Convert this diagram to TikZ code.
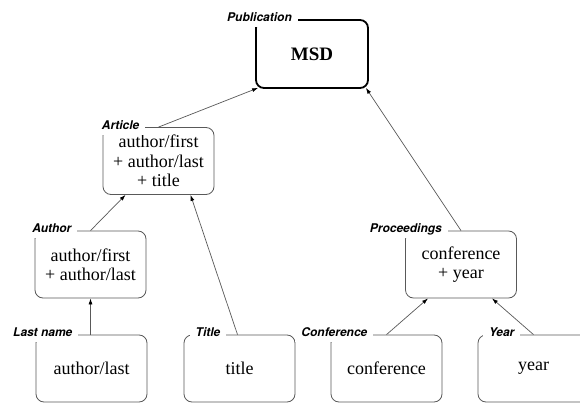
\documentclass[tikz,border=0pt]{standalone}
\usepackage{fontspec}
\setmainfont{Liberation Serif}
\newfontfamily\labfont{TeX Gyre Heros}
\usetikzlibrary{arrows.meta}
\begin{document}
\begin{tikzpicture}[x=1pt,y=-1pt,
  box/.style={draw=black!65, line width=0.8pt, rounded corners=8pt, minimum width=111pt, minimum height=67pt, align=center, inner sep=2pt, font=\fontsize{18}{19.5}\selectfont},
  topbox/.style={box, draw=black, line width=1.8pt, minimum width=112pt, minimum height=68pt, font=\fontsize{19}{22}\selectfont\bfseries},
  lab/.style={fill=white, inner xsep=6pt, inner ysep=4pt, text depth=1.5pt, anchor=base east, font=\labfont\fontsize{12}{14}\selectfont\bfseries\itshape},
  link/.style={draw=black!65, line width=0.7pt, -{Latex[length=6pt,width=4pt,black]}}
]
\clip (0,0) rectangle (580,403);
\fill[white] (0,0) rectangle (580,403);

\node[topbox] (msd) at (312,54) {MSD};
\node[box] (article) at (158.5,161) {author/first\\+ author/last\\+ title};
\node[box] (author) at (90.5,264.5) {author/first\\+ author/last};
\node[box] (proc) at (461,264.5) {conference\\+ year};
\node[box] (last) at (91.5,368.5) {author/last};
\node[box] (title) at (239.5,368.5) {title};
\node[box] (conf) at (386.5,368.5) {conference};
\node[box] (year) at (533.5,368.5) {year};

\node[lab] (lmsd) at ([xshift=43pt,yshift=-2pt]msd.north west) {Publication};
\node[lab] (larticle) at ([xshift=43pt,yshift=-2pt]article.north west) {Article};
\node[lab] (lauthor) at ([xshift=43pt,yshift=-2pt]author.north west) {Author};
\node[lab] (lproc) at ([xshift=43pt,yshift=-2pt]proc.north west) {Proceedings};
\node[lab] (llast) at ([xshift=43pt,yshift=-2pt]last.north west) {Last name};
\node[lab] (ltitle) at ([xshift=43pt,yshift=-2pt]title.north west) {Title};
\node[lab] (lconf) at ([xshift=43pt,yshift=-2pt]conf.north west) {Conference};
\node[lab] (lyear) at ([xshift=43pt,yshift=-2pt]year.north west) {Year};

\draw[link] (article.north) -- ([xshift=3pt,yshift=1pt]msd.south west);
\draw[link] (proc.north) -- ([xshift=-3pt,yshift=1pt]msd.south east);
\draw[link] (author.north) -- ([xshift=-33pt]article.south);
\draw[link] ([xshift=-2pt]title.north) -- ([xshift=32pt]article.south);
\draw[link] ([xshift=-1pt]last.north) -- (author.south);
\draw[link] (conf.north) -- ([xshift=-33pt]proc.south);
\draw[link] (year.north) -- ([xshift=31pt]proc.south);
\end{tikzpicture}
\end{document}
